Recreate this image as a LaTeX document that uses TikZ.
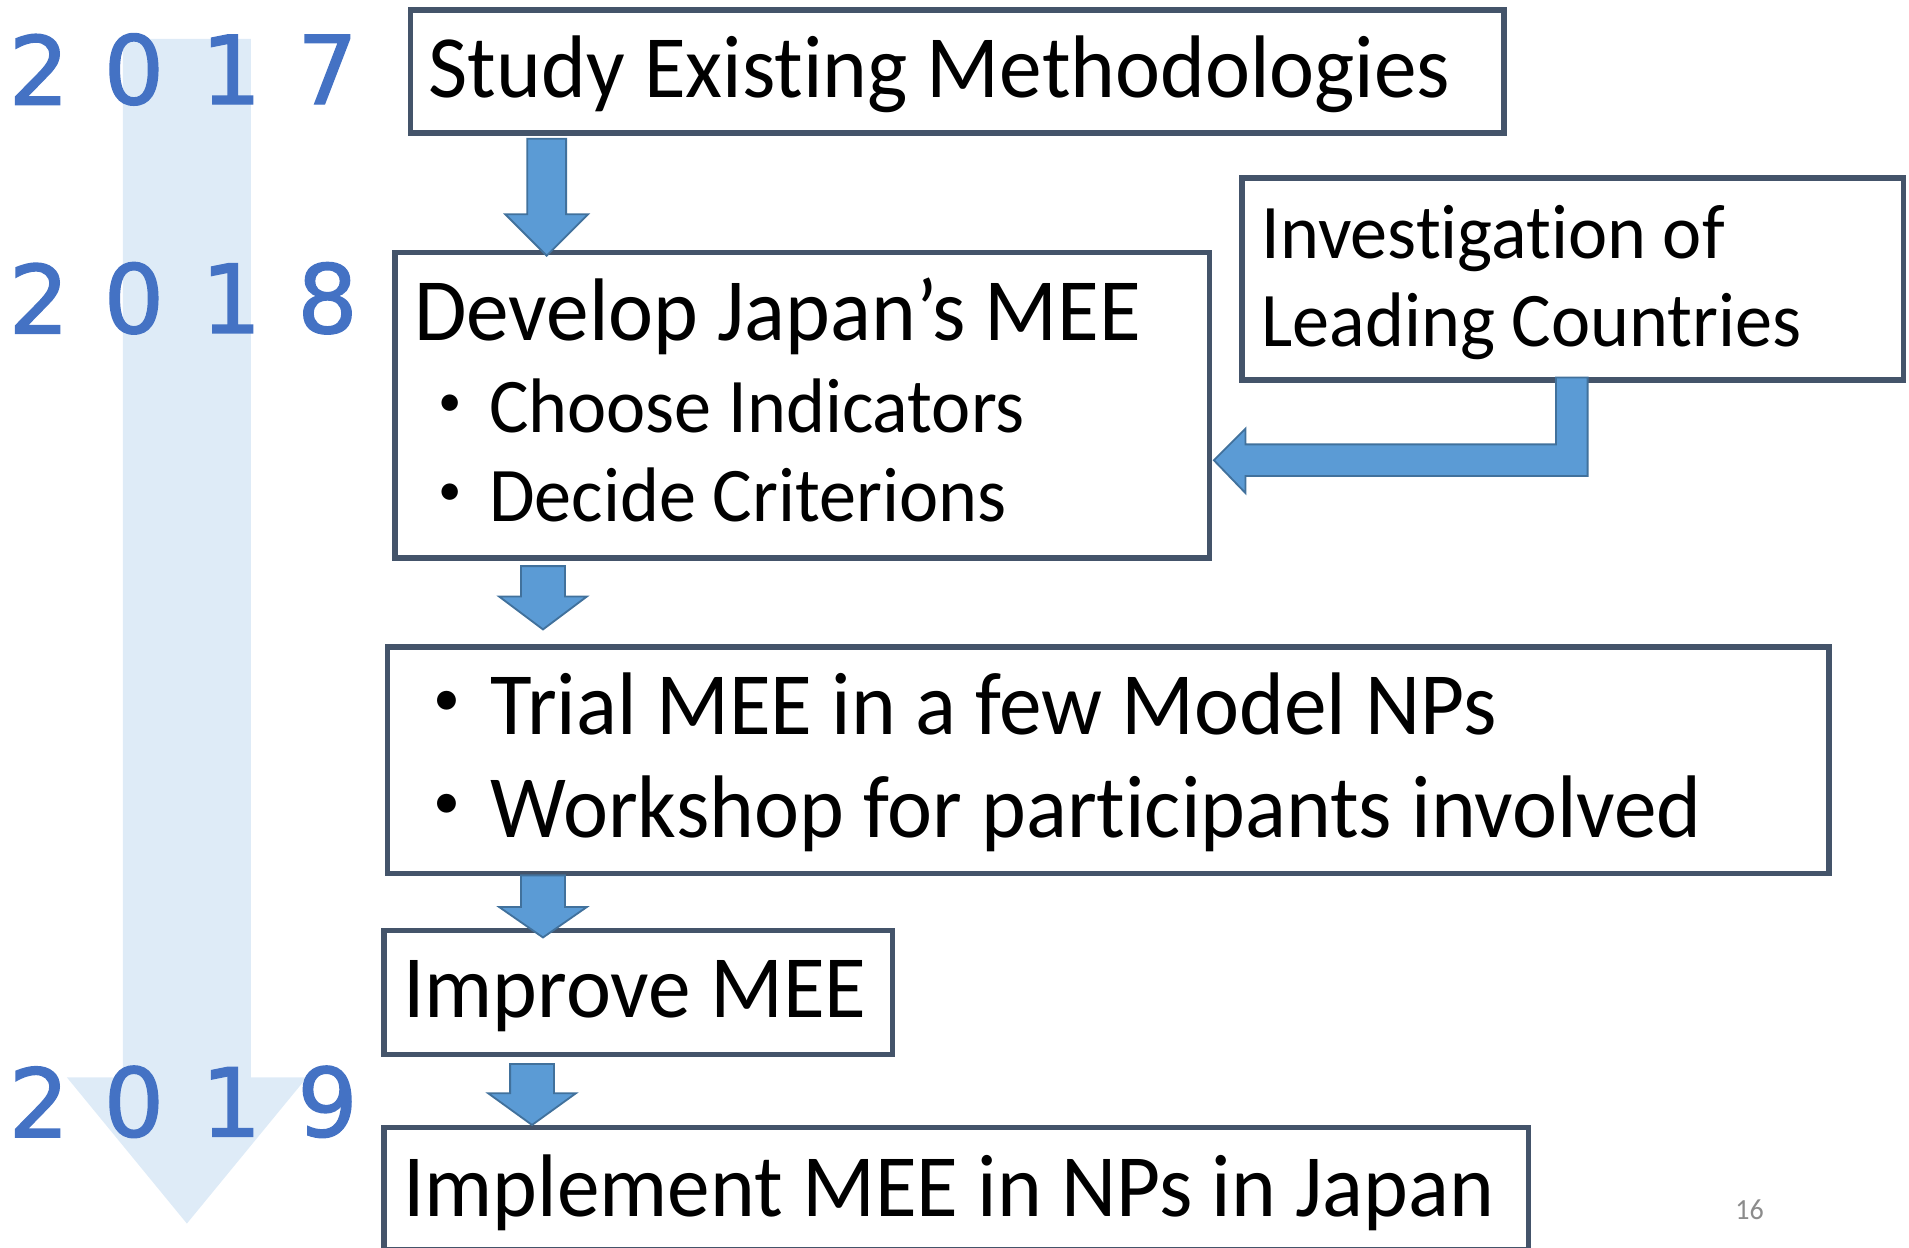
\documentclass[tikz,border=0pt]{standalone}
\usepackage{fontspec}
\setmainfont{Carlito}[Ligatures=NoCommon, FakeStretch=0.96]
\newfontfamily\cjk{Noto Sans CJK JP}
\newfontfamily\yearfont{DejaVu Sans}[FakeBold=1.5]
\definecolor{boxc}{HTML}{44546A}
\definecolor{yearc}{HTML}{4472C4}
\definecolor{arrfill}{HTML}{5B9BD5}
\definecolor{arrline}{HTML}{41719C}
\definecolor{timec}{HTML}{DEEBF7}
\definecolor{pagec}{HTML}{8C8C8C}
\newcommand\downarr[7]{% name, cx, shaft hw, ytop, ybase, head hw, tip
  \path[blockarrow] (#2-#3,#4) -- (#2+#3,#4) -- (#2+#3,#5) -- (#2+#6,#5) -- (#2,#7) -- (#2-#6,#5) -- (#2-#3,#5) -- cycle;}
\begin{document}
\begin{tikzpicture}[x=1pt,y=-1pt,
  box/.style={draw=boxc, line width=4.5pt, fill=white, inner sep=0pt, anchor=north west},
  txtbig/.style={anchor=base west, inner sep=0pt, font=\fontsize{73}{80}\selectfont},
  txtmid/.style={anchor=base west, inner sep=0pt, font=\fontsize{63.5}{70}\selectfont},
  txttrial/.style={anchor=base west, inner sep=0pt, font=\fontsize{73}{80}\selectfont},
  yr/.style={inner sep=0pt, text=yearc, font=\yearfont\fontsize{78}{80}\selectfont},
  blockarrow/.style={fill=arrfill, draw=arrline, line width=1.5pt, line join=miter}]
\useasboundingbox (0,0) rectangle (1568,1025);
% timeline arrow
\fill[timec] (101,32) -- (206,32) -- (206,885) -- (252,885) -- (153.5,1005) -- (55,885) -- (101,885) -- cycle;
% years
\foreach \d/\x [count=\i] in {2/32,0/110,1/190,7/269}{\node[yr] (ya\i) at (\x,57) {\d};}
\foreach \d/\x [count=\i] in {2/32,0/110,1/190,8/269}{\node[yr] (yb\i) at (\x,245) {\d};}
\foreach \d/\x [count=\i] in {2/32,0/110,1/190,9/269}{\node[yr] (yc\i) at (\x,905) {\d};}
% boxes
\node[box, minimum width=898pt, minimum height=101pt] (b1) at (335,6) {};
\node[box, minimum width=669pt, minimum height=251pt] (b2) at (322,205) {};
\node[box, minimum width=543pt, minimum height=166pt] (b3) at (1018,144) {};
\node[box, minimum width=1184pt, minimum height=186pt] (b4) at (316,529) {};
\node[box, minimum width=418pt, minimum height=102pt] (b5) at (313,762) {};
\node[box, minimum width=940pt, minimum height=100pt] (b6) at (313,924) {};
% texts
\node[txtbig] (t1) at (352,80) {Study Existing Methodologies};
\node[txtbig] (t2a) at (340,280) {Develop Japan’s MEE};
\node[txtmid] (t2b) at (338,355) {{\cjk ・}Choose Indicators};
\node[txtmid] (t2c) at (338,428) {{\cjk ・}Decide Criterions};
\node[txtmid] (t3a) at (1036,212) {Investigation of};
\node[txtmid] (t3b) at (1036,285) {Leading Countries};
\node[txttrial] (t4a) at (330,603) {{\cjk ・}Trial MEE in a few Model NPs};
\node[txttrial] (t4b) at (330,688) {{\cjk ・}Workshop for participants involved};
\node[txtbig] (t5) at (331,836) {Improve MEE};
\node[txtbig] (t6) at (331,999) {Implement MEE in NPs in Japan};
\node[anchor=base, inner sep=0pt, text=pagec, font=\fontsize{24}{26}\selectfont] (pg) at (1437,1002) {16};
% block arrows
\downarr{a1}{449}{16}{114}{176}{34}{210}
\downarr{a2}{446}{18}{465}{490}{36}{517}
\downarr{a3}{446}{18}{719}{745}{36}{770}
\downarr{a4}{437}{18}{874}{898}{36}{924}
\path[blockarrow] (1278,310) -- (1304,310) -- (1304,391) -- (1023,391) -- (1023,405) -- (997,378) -- (1023,352) -- (1023,365) -- (1278,365) -- cycle;
\end{tikzpicture}
\end{document}
